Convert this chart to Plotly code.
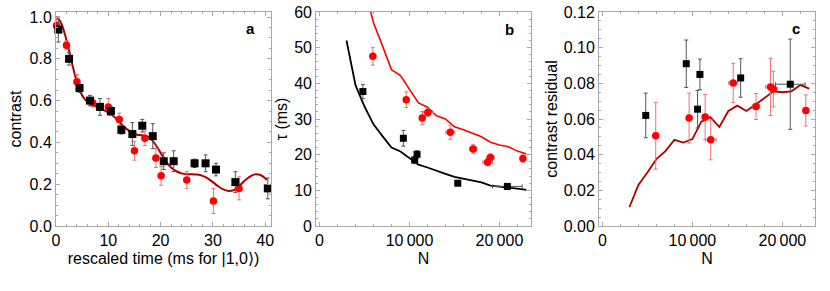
import plotly.graph_objects as go

# ---------------- Panel a data ----------------
a_black_t = [0.45, 2.5, 4.5, 6.5, 8.4, 10.5, 12.5, 14.6, 16.5, 18.5, 20.6, 22.5, 26.5, 28.6, 30.6, 34.3, 40.5]
a_black_c = [0.94, 0.80, 0.66, 0.60, 0.57, 0.55, 0.46, 0.44, 0.48, 0.43, 0.31, 0.31, 0.30, 0.30, 0.27, 0.21, 0.18]
a_black_e = [0.06, 0.03, 0.02, 0.025, 0.04, 0.02, 0.02, 0.055, 0.03, 0.06, 0.04, 0.05, 0.02, 0.04, 0.03, 0.05, 0.05]

a_red_t = [0.1, 2.0, 4.0, 7.0, 10.0, 12.1, 15.0, 17.0, 19.1, 20.1, 25.0, 30.1, 35.0]
a_red_c = [0.96, 0.865, 0.69, 0.59, 0.57, 0.51, 0.36, 0.42, 0.325, 0.24, 0.22, 0.12, 0.18]
a_red_e = [0.03, 0.02, 0.035, 0.02, 0.04, 0.03, 0.045, 0.035, 0.045, 0.045, 0.04, 0.06, 0.055]

a_fit_t = [0, 0.5, 1, 1.5, 2, 2.5, 3, 3.5, 4, 4.5, 5, 5.5, 6, 7, 8, 9, 10, 11, 12, 13, 14, 15, 16,
           17, 18, 19, 20, 21, 22, 23, 24, 25, 26, 27, 28, 29, 30, 31, 32, 33, 34, 35, 36, 37, 38,
           39, 40, 40.3]
a_fit_c = [1.0, 0.99, 0.97, 0.935, 0.89, 0.84, 0.785, 0.735, 0.69, 0.65, 0.625, 0.607, 0.595, 0.58,
           0.568, 0.556, 0.543, 0.525, 0.50, 0.475, 0.455, 0.44, 0.435, 0.432, 0.42, 0.39, 0.35,
           0.31, 0.28, 0.262, 0.252, 0.248, 0.248, 0.246, 0.24, 0.228, 0.21, 0.19, 0.175, 0.168,
           0.172, 0.19, 0.215, 0.235, 0.247, 0.245, 0.228, 0.22]

# ---------------- Panel b / c data ----------------
black_N = [4820, 9320, 10580, 10840, 15370, 20880]
black_Nerr = [0, 0, 0, 0, 0, 1650]
black_tau = [37.7, 24.6, 18.5, 20.1, 12.0, 11.1]
black_tau_e = [2.0, 2.2, 1.0, 1.0, 0.4, 0.8]
black_res = [0.062, 0.091, 0.0655, 0.085, 0.083, 0.0795]
black_res_e = [0.0125, 0.0133, 0.0105, 0.0086, 0.0108, 0.0253]

red_N = [5930, 9640, 11420, 12040, 14540, 17080, 18690, 19000, 22610]
red_Nerr = [0, 0, 0, 600, 500, 400, 550, 400, 0]
red_tau = [47.6, 35.4, 30.3, 31.8, 26.3, 21.6, 17.9, 19.2, 18.9]
red_tau_e = [2.5, 2.2, 1.8, 1.0, 2.0, 1.2, 1.0, 1.0, 1.0]
red_res = [0.0506, 0.0605, 0.0611, 0.0483, 0.0802, 0.067, 0.078, 0.0768, 0.0648]
red_res_e = [0.0187, 0.014, 0.0126, 0.0112, 0.011, 0.0073, 0.016, 0.01, 0.0087]

b_black_line_N = [3000, 4000, 5000, 6000, 7000, 8000, 9000, 10000, 11000, 12000, 13000, 14000,
                  15000, 16000, 17000, 18000, 19000, 20000, 21000, 22000, 23000]
b_black_line_tau = [52.0, 39.5, 33.5, 28.5, 25.2, 22.0, 20.9, 19.0, 17.2, 16.4, 15.4, 14.6, 13.8,
                    13.3, 12.8, 12.2, 11.3, 11.1, 10.9, 10.5, 10.1]
b_red_line_N = [5000, 6000, 7000, 8000, 9000, 10000, 11000, 12000, 13000, 14000, 15000, 16000,
                17000, 18000, 19000, 20000, 21000, 22000, 23000]
b_red_line_tau = [67.0, 57.0, 50.5, 43.8, 42.2, 38.5, 34.5, 33.3, 30.9, 30.0, 27.8, 27.0, 26.0,
                  25.0, 23.5, 22.7, 22.2, 21.0, 20.2]

c_line_N = [3000, 4000, 5000, 6000, 7000, 8000, 9000, 10000, 11000, 12000, 13000, 14000, 15000,
            16000, 17000, 18000, 19000, 20000, 21000, 22000, 23000]
c_line_res = [0.0105, 0.023, 0.030, 0.0375, 0.042, 0.0483, 0.0468, 0.0487, 0.0585, 0.061, 0.0555,
              0.0645, 0.0675, 0.0645, 0.068, 0.072, 0.0755, 0.075, 0.0755, 0.079, 0.077]

# tick labels
a_xticks = [0, 10, 20, 30, 40]
a_yticks = [0.0, 0.2, 0.4, 0.6, 0.8, 1.0]
N_ticks = [0, 10000, 20000]
N_ticktext = ["0", "10\u2009000", "20\u2009000"]
b_yticks = [0, 10, 20, 30, 40, 50, 60]
c_yticks = [0.0, 0.02, 0.04, 0.06, 0.08, 0.10, 0.12]

# ---------------- styling ----------------
FONT = "Liberation Sans, Arial, sans-serif"
DARKRED = "#b00000"
FRAME = "#a8a8a8"
BLACK_ERR = "#555555"
RED_ERR = "#f07070"

fig = go.Figure()


def pts(x, y, ey, color, symbol, errc, xa, ya, ex=None, size=8):
    kw = dict(
        x=x, y=y, mode="markers", xaxis=xa, yaxis=ya, showlegend=False, cliponaxis=False,
        marker=dict(color=color, symbol=symbol, size=size, line=dict(width=0)),
        error_y=dict(type="data", array=ey, color=errc, thickness=1, width=2),
    )
    if ex is not None:
        kw["error_x"] = dict(type="data", array=ex, color=errc, thickness=1, width=2)
    fig.add_trace(go.Scatter(**kw))


# panel a
fig.add_trace(go.Scatter(x=a_fit_t, y=a_fit_c, mode="lines", line=dict(color=DARKRED, width=2, shape="spline"),
                         xaxis="x", yaxis="y", showlegend=False))
pts(a_red_t, a_red_c, a_red_e, "#ff0000", "circle", RED_ERR, "x", "y", size=7.5)
pts(a_black_t, a_black_c, a_black_e, "black", "square", BLACK_ERR, "x", "y", size=8)

# panel b
fig.add_trace(go.Scatter(x=b_black_line_N, y=b_black_line_tau, mode="lines", line=dict(color="black", width=1.8),
                         xaxis="x2", yaxis="y2", showlegend=False))
fig.add_trace(go.Scatter(x=b_red_line_N, y=b_red_line_tau, mode="lines", line=dict(color="#ff0000", width=1.6),
                         xaxis="x2", yaxis="y2", showlegend=False))
pts(red_N, red_tau, red_tau_e, "#ff0000", "circle", RED_ERR, "x2", "y2", ex=red_Nerr, size=7.5)
pts(black_N, black_tau, black_tau_e, "black", "square", BLACK_ERR, "x2", "y2", ex=black_Nerr, size=7)

# panel c
fig.add_trace(go.Scatter(x=c_line_N, y=c_line_res, mode="lines", line=dict(color=DARKRED, width=1.8),
                         xaxis="x3", yaxis="y3", showlegend=False))
pts(red_N, red_res, red_res_e, "#ff0000", "circle", RED_ERR, "x3", "y3", ex=red_Nerr, size=7.5)
pts(black_N, black_res, black_res_e, "black", "square", BLACK_ERR, "x3", "y3", ex=black_Nerr, size=7)


def axis(**kw):
    d = dict(showline=True, linecolor=FRAME, linewidth=1, mirror="allticks", ticks="inside",
             ticklen=4, tickcolor=FRAME, showgrid=False, zeroline=False, automargin=False,
             tickfont=dict(family=FONT, size=16, color="black"),
             minor=dict(ticks="inside", ticklen=2, tickcolor=FRAME, showgrid=False))
    d.update(kw)
    return d


TITLEF = dict(family=FONT, size=16, color="black")
LABELF = dict(family=FONT, size=15, color="black")

fig.update_layout(
    width=830, height=291,
    margin=dict(l=56, r=15, t=12, b=65),
    paper_bgcolor="white", plot_bgcolor="white",
    font=dict(family=FONT, color="black"),
    xaxis=axis(domain=[0.0, 0.2832], range=[0, 41.1], tickvals=a_xticks, anchor="y",
               minor_dtick=2,
               title=dict(text="rescaled time (ms for |1,0\u27e9)", font=TITLEF, standoff=4)),
    yaxis=axis(domain=[0, 1], range=[0, 1.024], tickvals=a_yticks, tickformat=".1f", anchor="x",
               minor_dtick=0.05,
               title=dict(text="contrast", font=TITLEF, standoff=3)),
    xaxis2=axis(domain=[0.3428, 0.6256], range=[-370, 23490], tickvals=N_ticks, ticktext=N_ticktext,
                anchor="y2", minor_dtick=2000,
                title=dict(text="N", font=TITLEF, standoff=4)),
    yaxis2=axis(domain=[0, 1], range=[0, 60], tickvals=b_yticks, anchor="x2", minor_dtick=2,
                title=dict(text="\u03c4 (ms)", font=TITLEF, standoff=2)),
    xaxis3=axis(domain=[0.7155, 1.0], range=[-370, 23630], tickvals=N_ticks, ticktext=N_ticktext,
                anchor="y3", minor_dtick=2000,
                title=dict(text="N", font=TITLEF, standoff=4)),
    yaxis3=axis(domain=[0, 1], range=[0, 0.12], tickvals=c_yticks, tickformat=".2f", anchor="x3",
                minor_dtick=0.005,
                title=dict(text="contrast residual", font=TITLEF, standoff=2)),
    annotations=[
        dict(text="<b>a</b>", xref="x domain", yref="y domain", x=0.904, y=0.924, showarrow=False,
             xanchor="center", yanchor="middle", font=LABELF),
        dict(text="<b>b</b>", xref="x2 domain", yref="y2 domain", x=0.900, y=0.920, showarrow=False,
             xanchor="center", yanchor="middle", font=LABELF),
        dict(text="<b>c</b>", xref="x3 domain", yref="y3 domain", x=0.912, y=0.924, showarrow=False,
             xanchor="center", yanchor="middle", font=LABELF),
    ],
)

fig.write_html("out.html", config={"displayModeBar": False},
               post_script="document.body.style.margin='0';")
